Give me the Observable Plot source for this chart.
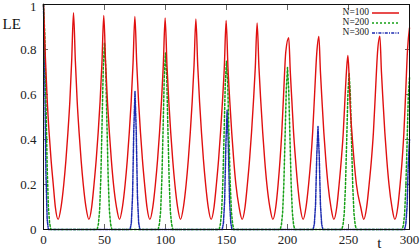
<!DOCTYPE html>
<html>
<head>
<meta charset="utf-8">
<script src="https://cdn.jsdelivr.net/npm/d3@7"></script>
<script src="https://cdn.jsdelivr.net/npm/@observablehq/plot@0.6"></script>
<style>
  html, body { margin: 0; padding: 0; background: #fff; }
</style>
</head>
<body>
<div id="chart"></div>
<script>
const xTicks = [0, 50, 100, 150, 200, 250, 300];
const yTicks = [0, 0.2, 0.4, 0.6, 0.8, 1];
const yTickLabels = ["0", "0.2", "0.4", "0.6", "0.8", "1"];
const seriesNames = ["N=100", "N=200", "N=300"];
const seriesColors = ["#e01010", "#16a016", "#1c2ab0"];

// N=100 (red)
const t100 = [
  0, 1.5, 3, 4.6, 6.2, 8, 9.7, 12,
  14.4, 16.6, 18.4, 20, 21.6, 23.1, 24.6,
  26.1, 27.6, 29.2, 30.8, 32.6, 34.8, 37.2,
  39.5, 41.4, 43.2, 44.8, 46.4, 47.9, 49.4,
  50.9, 52.4, 54, 55.6, 57.4, 59.8, 62.3,
  64.7, 66.9, 68.7, 70.3, 71.9, 73.4, 74.9,
  76.4, 77.9, 79.5, 81.1, 82.9, 84.8, 87.2,
  89.6, 91.7, 93.5, 95.1, 96.7, 98.2, 99.7,
  101.2, 102.7, 104.3, 105.9, 107.7, 109.9, 112.3,
  114.7, 116.9, 118.7, 120.3, 121.9, 123.4, 124.9,
  126.4, 127.9, 129.5, 131.1, 132.9, 135, 137.4,
  139.8, 141.7, 143.5, 145.1, 146.7, 148.2, 149.7,
  151.2, 152.7, 154.3, 155.9, 157.7, 160.3, 162.8,
  165.2, 167.1, 168.9, 170.5, 172.1, 173.6, 175.1,
  176.6, 178.1, 179.7, 181.3, 183.1, 185.5, 188,
  190.4, 192.3, 193.9, 195.3, 196.8, 198.6, 201,
  202.3, 203.6, 205, 206.6, 208.3, 210.4, 212.8,
  215.2, 217.3, 219.1, 220.6, 222.2, 224, 225.7,
  227, 228.3, 229.8, 231.4, 233.2, 235.6, 238,
  240.4, 242.3, 244.1, 245.7, 247, 248.3, 249.5,
  250.5, 251.2, 252.8, 254.5, 256.5, 260, 262.5,
  264.9, 266.9, 268.8, 270.4, 272, 273.8, 275.7,
  277, 278.3, 279.8, 281.4, 283.2, 285.6, 288,
  290.4, 292.3, 294, 295.4, 296.8, 298.4, 300
];
const le100 = [
  1.0, 0.77, 0.58, 0.43, 0.31, 0.2, 0.1, 0.045,
  0.1, 0.2, 0.31, 0.43, 0.57, 0.75, 0.964,
  0.75, 0.57, 0.43, 0.31, 0.2, 0.1, 0.045,
  0.1, 0.2, 0.31, 0.43, 0.57, 0.74, 0.951,
  0.74, 0.57, 0.43, 0.31, 0.2, 0.1, 0.045,
  0.1, 0.2, 0.31, 0.43, 0.57, 0.74, 0.947,
  0.74, 0.57, 0.43, 0.31, 0.2, 0.1, 0.045,
  0.1, 0.2, 0.31, 0.43, 0.57, 0.73, 0.94,
  0.73, 0.57, 0.43, 0.31, 0.2, 0.1, 0.045,
  0.1, 0.2, 0.31, 0.43, 0.57, 0.73, 0.936,
  0.73, 0.57, 0.43, 0.31, 0.2, 0.1, 0.045,
  0.1, 0.2, 0.31, 0.43, 0.57, 0.72, 0.929,
  0.72, 0.57, 0.43, 0.31, 0.2, 0.1, 0.045,
  0.1, 0.2, 0.31, 0.43, 0.57, 0.72, 0.918,
  0.72, 0.57, 0.43, 0.31, 0.2, 0.1, 0.045,
  0.1, 0.2, 0.31, 0.43, 0.6, 0.79, 0.852,
  0.7, 0.57, 0.43, 0.31, 0.2, 0.1, 0.045,
  0.1, 0.2, 0.31, 0.43, 0.6, 0.785, 0.858,
  0.7, 0.57, 0.43, 0.31, 0.2, 0.1, 0.045,
  0.1, 0.2, 0.31, 0.43, 0.57, 0.7, 0.773,
  0.68, 0.57, 0.43, 0.31, 0.2, 0.1, 0.045,
  0.1, 0.2, 0.31, 0.43, 0.6, 0.788, 0.859,
  0.7, 0.57, 0.43, 0.31, 0.2, 0.1, 0.045,
  0.1, 0.2, 0.31, 0.43, 0.6, 0.8, 0.896
];

// N=200 (green)
const t200 = [
  0, 1, 2, 3, 4, 5, 6,
  44, 45, 46, 47, 48, 49, 50, 51, 52, 53, 54, 55, 56,
  94, 95, 96, 97, 98, 99, 100, 101, 102, 103, 104, 105, 106,
  144, 145, 146, 147, 148, 149, 150, 151, 152, 153, 154, 155, 156,
  194, 195, 196, 197, 198, 199, 200, 201, 202, 203, 204, 205, 206,
  244.5, 245.5, 246.5, 247.5, 248.5, 249.5, 250.5, 251.5, 252.5, 253.5, 254.5, 255.5, 256.5,
  294, 295, 296, 297, 298, 299, 300
];
const le200 = [
  1.0, 0.87, 0.57, 0.28, 0.1, 0.03, 0,
  0, 0.025, 0.085, 0.23, 0.47, 0.72, 0.83, 0.72, 0.47, 0.23, 0.085, 0.025, 0,
  0, 0.025, 0.08, 0.22, 0.44, 0.68, 0.784, 0.68, 0.44, 0.22, 0.08, 0.025, 0,
  0, 0.025, 0.08, 0.21, 0.42, 0.65, 0.748, 0.65, 0.42, 0.21, 0.08, 0.025, 0,
  0, 0.02, 0.075, 0.2, 0.41, 0.62, 0.72, 0.62, 0.41, 0.2, 0.075, 0.02, 0,
  0, 0.02, 0.07, 0.19, 0.39, 0.6, 0.695, 0.6, 0.39, 0.19, 0.07, 0.02, 0,
  0, 0.02, 0.07, 0.19, 0.38, 0.59, 0.676
];

// N=300 (blue)
const t300 = [
  0, 1, 2, 3, 4,
  71, 72, 73, 74, 75, 76, 77, 78, 79,
  146.5, 147.5, 148.5, 149.5, 150.5, 151.5, 152.5, 153.5, 154.5,
  221, 222, 223, 224, 225, 226, 227, 228, 229,
  296, 297, 298, 299, 300
];
const le300 = [
  1.0, 0.71, 0.25, 0.045, 0,
  0, 0.03, 0.15, 0.44, 0.615, 0.44, 0.15, 0.03, 0,
  0, 0.03, 0.13, 0.38, 0.53, 0.38, 0.13, 0.03, 0,
  0, 0.025, 0.11, 0.33, 0.458, 0.33, 0.11, 0.025, 0,
  0, 0.025, 0.1, 0.29, 0.4
];

const toRows = (ts, vs) => ts.map((t, i) => ({t, le: vs[i]}));
const d100 = toRows(t100, le100);
const d200 = toRows(t200, le200);
const d300 = toRows(t300, le300);

const dashes = [null, "2,2", "3,1.2,1,1.2"];
const serif = "'Liberation Serif', 'DejaVu Serif', serif";

function legend(index, scales, values, dimensions) {
  const g = d3.create("svg:g")
    .attr("font-family", serif)
    .attr("font-size", 9.5);
  const xr = dimensions.width - dimensions.marginRight - 10;
  seriesNames.forEach((name, i) => {
    const y = dimensions.marginTop + 7.5 + i * 10;
    g.append("text")
      .attr("x", xr - 30).attr("y", y + 3.2)
      .attr("text-anchor", "end")
      .attr("fill", "#222")
      .text(name);
    g.append("line")
      .attr("x1", xr - 27).attr("x2", xr)
      .attr("y1", y + 1.5).attr("y2", y + 1.5)
      .attr("stroke", seriesColors[i])
      .attr("stroke-width", 1.5)
      .attr("stroke-dasharray", dashes[i]);
  });
  return g.node();
}

const chart = Plot.plot({
  width: 420,
  height: 249,
  marginLeft: 43,
  marginRight: 11,
  marginTop: 4,
  marginBottom: 20,
  style: {fontFamily: serif, fontSize: "13px", color: "#222", background: "white"},
  x: {domain: [0, 300]},
  y: {domain: [0, 1]},
  marks: [
    // inward ticks on all four sides
    Plot.axisX({anchor: "bottom", ticks: xTicks, tickSize: -5, tickFormat: () => "", label: null, stroke: "#666"}),
    Plot.axisX({anchor: "top", ticks: xTicks, tickSize: -5, tickFormat: () => "", label: null, stroke: "#666"}),
    Plot.axisY({anchor: "left", ticks: yTicks, tickSize: -5, tickFormat: () => "", label: null, stroke: "#666"}),
    Plot.axisY({anchor: "right", ticks: yTicks, tickSize: -5, tickFormat: () => "", label: null, stroke: "#666"}),
    // tick labels
    Plot.axisX({anchor: "bottom", ticks: xTicks, tickSize: 0, tickPadding: 5, tickFormat: d => String(d), label: null}),
    Plot.axisY({anchor: "left", ticks: yTicks.slice(0, 5), tickSize: 0, tickPadding: 7, tickFormat: (d, i) => yTickLabels[i], label: null}),
    Plot.axisY({anchor: "left", ticks: yTicks.slice(5), tickSize: 0, tickPadding: 7, dy: 2, tickFormat: () => yTickLabels[5], label: null}),
    Plot.line(d300, {x: "t", y: "le", stroke: seriesColors[2], strokeWidth: 1.5, strokeDasharray: dashes[2]}),
    Plot.line(d200, {x: "t", y: "le", stroke: seriesColors[1], strokeWidth: 1.5, strokeDasharray: dashes[1]}),
    Plot.line(d100, {x: "t", y: "le", stroke: seriesColors[0], strokeWidth: 1.4, curve: "monotone-x"}),
    Plot.frame({stroke: "#111"}),
    Plot.text(["LE"], {frameAnchor: "top-left", dx: -41, dy: 14, fontSize: 15, fill: "#111"}),
    Plot.text(["t"], {frameAnchor: "bottom-right", dx: -28, dy: 18, fontSize: 15, fill: "#111"}),
    legend
  ]
});
document.getElementById("chart").appendChild(chart);
</script>
</body>
</html>
